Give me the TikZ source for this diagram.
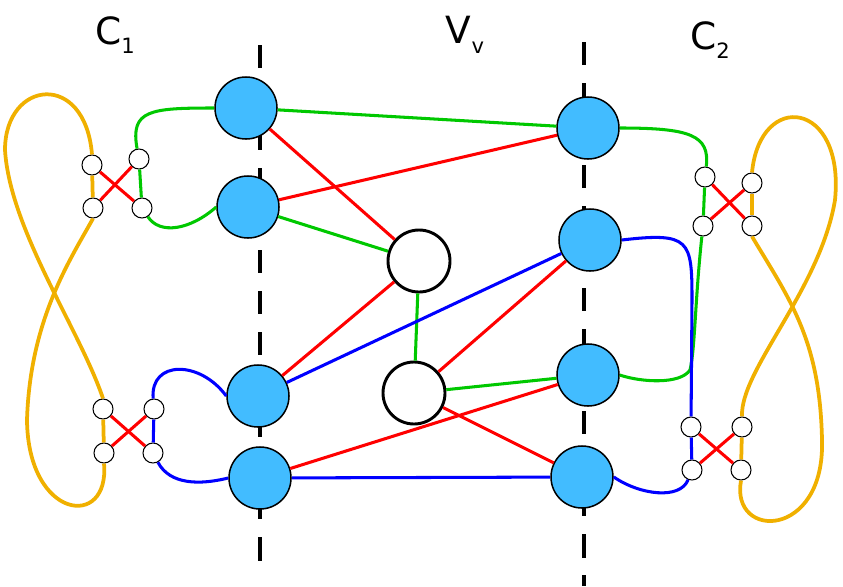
\documentclass[tikz,border=0pt]{standalone}
\usepackage{fontspec}
\setmainfont{DejaVu Sans}
\definecolor{skyb}{RGB}{66,188,255}
\definecolor{gold}{RGB}{240,176,0}
\definecolor{grn}{RGB}{0,200,0}
\newcommand{\lbl}[2]{#1\raisebox{-0.25em}{\fontsize{18}{20}\selectfont #2}}
\begin{document}
\begin{tikzpicture}[x=0.03cm,y=-0.03cm,
  big/.style={circle,draw,line width=1.3pt,minimum size=1.86cm,inner sep=0pt},
  vert/.style={big,fill=skyb},
  hole/.style={big,line width=2.5pt,fill=white},
  port/.style={circle,draw,line width=0.9pt,fill=white,minimum size=0.6cm,inner sep=0pt},
  gr/.style={grn,line width=2.6pt},
  rd/.style={red,line width=2.6pt},
  bl/.style={blue,line width=2.6pt},
  yl/.style={gold,line width=3.2pt},
  title/.style={font=\fontsize{32}{36}\selectfont}]
\useasboundingbox (0,0) rectangle (843,586);
% axes
\draw[line width=3.2pt,dash pattern=on 20pt off 15pt] (260,45) -- (260,568);
\draw[line width=3.2pt,dash pattern=on 20pt off 15pt] (584,42) -- (584,586);
% labels
\node[title] (c1) at (115,35) {\lbl{C}{1}};
\node[title] (vv) at (465,35) {\lbl{V}{v}};
\node[title] (c2) at (710,40) {\lbl{C}{2}};
% left ports
\node[port] (a1) at (92,165) {};
\node[port] (b1) at (139,159) {};
\node[port] (c1p) at (93,208) {};
\node[port] (d1) at (142,208) {};
\node[port] (e1) at (103,409) {};
\node[port] (f1) at (154,409) {};
\node[port] (g1) at (104,453) {};
\node[port] (h1) at (153,453) {};
% right ports
\node[port] (a2) at (705,177) {};
\node[port] (b2) at (752,183) {};
\node[port] (c2p) at (703,226) {};
\node[port] (d2) at (752,226) {};
\node[port] (e2) at (691,427) {};
\node[port] (f2) at (742,427) {};
\node[port] (g2) at (692,470) {};
\node[port] (h2) at (741,470) {};
% crossings
\foreach \p/\q in {a1/d1,b1/c1p,e1/h1,f1/g1,a2/d2,b2/c2p,e2/h2,f2/g2}
  \draw[rd] (\p) -- (\q);
% figure-eight loops
\draw[yl] (a1.north) .. controls (85,70) and (5,80) .. (5,150)
  .. controls (10,230) and (80,330) .. (e1.north);
\draw[yl] (c1p.south) .. controls (70,260) and (30,320) .. (27,420)
  .. controls (28,520) and (110,530) .. (g1.south);
\draw[yl] (a1) -- (c1p);
\draw[yl] (e1) -- (g1);
\draw[yl] (b2.north) .. controls (760,90) and (845,100) .. (835,200)
  .. controls (820,290) and (740,370) .. (f2.north);
\draw[yl] (d2.south) .. controls (790,300) and (820,340) .. (822,440)
  .. controls (825,540) and (730,540) .. (h2.south);
\draw[yl] (b2) -- (d2);
\draw[yl] (f2) -- (h2);
% vertices
\node[vert] (l1) at (246,108) {};
\node[vert] (l2) at (248,207) {};
\node[vert] (l3) at (258,396) {};
\node[vert] (l4) at (260,478) {};
\node[vert] (r1) at (588,128) {};
\node[vert] (r2) at (590,240) {};
\node[vert] (r3) at (588,375) {};
\node[vert] (r4) at (582,477) {};
\node[hole] (w1) at (419,261) {};
\node[hole] (w2) at (414,393) {};
% ends
\draw[gr] (b1) .. controls (130,110) and (150,108) .. (l1.west);
\draw[gr] (b1) -- (d1);
\draw[gr] (d1) .. controls (160,235) and (190,230) .. (l2.west);
\draw[bl] (f1) .. controls (150,360) and (200,360) .. (l3.west);
\draw[bl] (f1) -- (h1);
\draw[bl] (h1) .. controls (170,485) and (200,485) .. (l4.west);
\draw[gr] (r1.east) .. controls (690,128) and (710,135) .. (a2);
\draw[gr] (a2) -- (c2p);
\draw[gr] (c2p) .. controls (695,300) and (695,350) .. (690,370) .. controls (680,385) and (640,382) .. (r3.east);
\draw[bl] (r2.east) .. controls (690,232) and (692,240) .. (692,300) -- (e2);
\draw[bl] (e2) -- (g2);
\draw[bl] (g2) .. controls (680,500) and (640,495) .. (r4.east);
% middle edges
\draw[gr] (l1) -- (r1);
\draw[gr] (l2) -- (w1);
\draw[gr] (w1) -- (w2);
\draw[gr] (w2) -- (r3);
\draw[rd] (l1) -- (w1);
\draw[rd] (l2) -- (r1);
\draw[rd] (l3) -- (w1);
\draw[rd] (w2) -- (r2);
\draw[rd] (l4) -- (r3);
\draw[rd] (w2) -- (r4);
\draw[bl] (l3) -- (r2);
\draw[bl] (l4) -- (r4);
\end{tikzpicture}
\end{document}
